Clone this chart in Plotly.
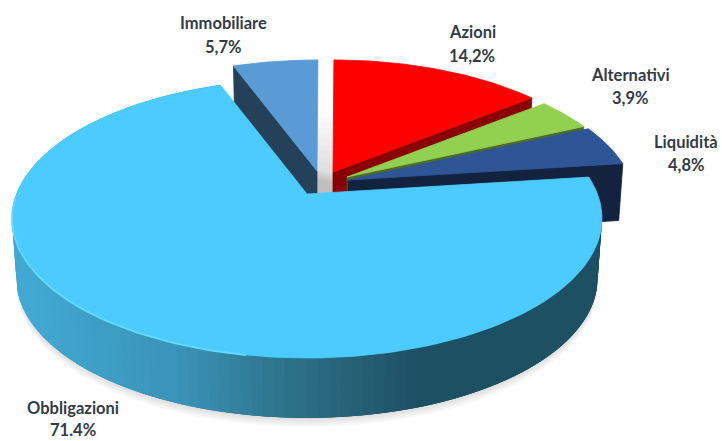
import numpy as np
import plotly.graph_objects as go

# ---- data ----
categories = ["Immobiliare", "Azioni", "Alternativi", "Liquidità", "Obbligazioni"]
shares = [5.7, 14.2, 3.9, 4.8, 71.4]
share_labels = ["5,7%", "14,2%", "3,9%", "4,8%", "71.4%"]

# ---- styling / layout ----
top_colors = ["#5B9BD5", "#FF0000", "#92D050", "#2F5597", "#4BCBFF"]
side_colors = ["#244159", "#8A0000", "#4C6B2A", "#13233F", "#2E7289"]
tips = [(317, 171), (333, 172), (347, 177), (348, 180), (307, 194)]
radii = [0.96, 0.97, 0.96, 0.975, 1.0]
label_pos = [(223, 23, 47), (472, 32, 56), (630, 75, 98), (686, 142, 165), (73, 408, 430)]
START = 110.3
A0, B0, K = 290.4, 135.2, 0.1756
DEPTH = 60
XS = 0.985


def proj(theta, r, tip, dy=0.0, xs=1.0):
    t = np.radians(theta)
    u, v = r * np.cos(t), r * np.sin(t)
    d = 1 + K * v
    return tip[0] + A0 * u / d * xs, tip[1] - B0 * v / d + dy


def poly(fig, xs, ys, fill, line=True):
    fig.add_trace(go.Scatter(
        x=list(xs), y=list(ys), mode="lines", fill="toself", fillcolor=fill,
        line=dict(color=fill if line else "rgba(0,0,0,0)", width=0.8 if line else 0),
        hoverinfo="skip", showlegend=False))


def side_color(x):
    stops_x = [30, 180, 290, 420, 700]
    r = np.interp(x, stops_x, [0x41, 0x3B, 0x2E, 0x1E, 0x1E])
    g = np.interp(x, stops_x, [0xA9, 0x93, 0x72, 0x50, 0x50])
    b = np.interp(x, stops_x, [0xD2, 0xB8, 0x89, 0x64, 0x64])
    return f"rgb({int(r)},{int(g)},{int(b)})"


fig = go.Figure()

# slice angles derived from the shares (clockwise from START)
edges = [START]
for s in shares:
    edges.append(edges[-1] - s * 3.6)

big_a, big_b = edges[4], edges[5]
big_tip, big_color = tips[4], top_colors[4]

# soft shadow seen through the gap between slices
for r in [0.74, 0.69, 0.64, 0.59, 0.54, 0.49, 0.44, 0.39, 0.34, 0.29, 0.24]:
    th = np.linspace(0, 360, 90)
    x, y = proj(th, r, (326, 200))
    poly(fig, x, y, "rgba(0,0,0,0.012)", line=False)

# soft shadow under the large slice
th = np.linspace(big_a, big_b, 160)
for off in [9, 7, 5, 3, 1]:
    x, y = proj(th, 1.0, big_tip, DEPTH + off, XS)
    poly(fig, x, y, "rgba(0,0,0,0.028)", line=False)

# exploded slices, back to front
for i in range(4):
    a, b, tip, r = edges[i], edges[i + 1], tips[i], radii[i]
    # visible cut face: left edge for the first slice, right edge for the others
    e = a if i == 0 else b
    ex, ey = proj(e, r, tip)
    ex2, ey2 = proj(e, r, tip, DEPTH - 3, XS)
    poly(fig, [tip[0], ex, ex2, tip[0], tip[0]],
         [tip[1], ey, ey2, tip[1] + DEPTH - 3, tip[1]], side_colors[i])
    th = np.linspace(a, b, 40)
    x, y = proj(th, r, tip)
    poly(fig, [tip[0], *x, tip[0]], [tip[1], *y, tip[1]], top_colors[i])

# large slice: rim as overlapping strips shaded along x, so no seams show
th = np.linspace(big_a, big_b, 141)
step = th[0] - th[1]
for t0 in th[:-1]:
    t1 = max(t0 - 3 * step, big_b)
    tm = np.linspace(t0, t1, 4)
    xt, yt = proj(tm, 1.0, big_tip)
    xl, yl = proj(tm[::-1], 1.0, big_tip, DEPTH, XS)
    xc, _ = proj(t0 - step / 2, 1.0, big_tip)
    poly(fig, [*xt, *xl, xt[0]], [*yt, *yl, yt[0]], side_color(xc), line=False)

th = np.linspace(big_a, big_b, 200)
x, y = proj(th, 1.0, big_tip)
poly(fig, [big_tip[0], *x, big_tip[0]], [big_tip[1], *y, big_tip[1]], big_color)

# light rim on the front-left edge
th = np.linspace(-178, -100, 60)
x, y = proj(th, 1.0, big_tip)
fig.add_trace(go.Scatter(x=x, y=y, mode="lines", line=dict(color="#63DAFF", width=1.8),
                         hoverinfo="skip", showlegend=False))

for cat, lab, (cx, y1, y2) in zip(categories, share_labels, label_pos):
    for txt, yy in ((cat, y1), (lab, y2)):
        fig.add_annotation(x=cx, y=yy, text=f"<b>{txt}</b>", showarrow=False,
                           xanchor="center", yanchor="middle",
                           font=dict(family="Lato", size=16.5, color="#333B47"))

fig.update_layout(
    width=722, height=441, margin=dict(l=0, r=0, t=0, b=0),
    paper_bgcolor="white", plot_bgcolor="white", showlegend=False,
    xaxis=dict(range=[0, 722], visible=False, fixedrange=True),
    yaxis=dict(range=[441, 0], visible=False, fixedrange=True),
)

fig.write_html("out.html", config={"displayModeBar": False},
               post_script="document.body.style.margin='0';document.body.style.overflow='hidden';")
